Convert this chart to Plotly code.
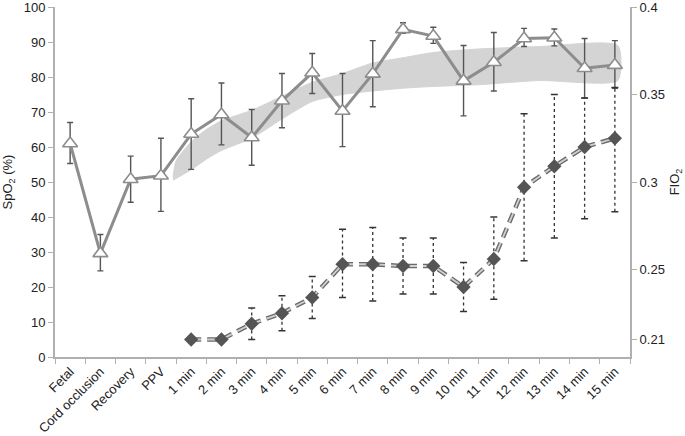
import plotly.graph_objects as go

categories = ["Fetal", "Cord occlusion", "Recovery", "PPV", "1 min", "2 min", "3 min",
              "4 min", "5 min", "6 min", "7 min", "8 min", "9 min", "10 min", "11 min",
              "12 min", "13 min", "14 min", "15 min"]

spo2 = [61, 29.6, 50.8, 51.8, 63.7, 69.3, 62.7, 73.2, 81.2, 70.3, 80.9, 93.6, 91.7,
        78.9, 84.2, 91.0, 91.2, 82.5, 83.4]
spo2_hi = [67, 35.0, 57.4, 62.5, 73.8, 78.3, 70.7, 81.0, 86.7, 81.0, 90.4, 95.5, 94.2,
           89.0, 92.7, 93.9, 93.7, 91.0, 90.4]
spo2_lo = [55.3, 24.6, 44.2, 41.6, 53.6, 60.6, 54.8, 65.5, 75.3, 60.1, 71.5, 92.5, 89.6,
           68.9, 76.0, 88.7, 88.9, 74.0, 76.8]

fio_categories = categories[4:]
fio2 = [0.210, 0.210, 0.219, 0.225, 0.234, 0.253, 0.253, 0.252, 0.252, 0.240, 0.256,
        0.297, 0.309, 0.320, 0.325]
fio2_hi = [None, None, 0.228, 0.235, 0.246, 0.273, 0.274, 0.268, 0.268, 0.254, 0.280,
           0.339, 0.350, 0.348, 0.354]
fio2_lo = [None, None, 0.210, 0.215, 0.222, 0.234, 0.232, 0.236, 0.236, 0.226, 0.233,
           0.255, 0.268, 0.279, 0.283]

# target band (position in category units)
band_pos = [3.4, 3.5, 4.0, 4.5, 5.0, 6.0, 7.0, 8.0, 9.0, 10.0, 11.0, 12.0, 13.5, 15.5, 18.1]
band_hi = [51.5, 56.0, 61.5, 65.0, 67.5, 70.5, 74.5, 78.5, 81.0, 84.0, 85.5, 87.0, 88.0, 88.7, 89.0]
band_lo = [50.5, 51.0, 53.5, 56.5, 59.0, 62.5, 68.0, 73.0, 75.0, 76.0, 76.8, 77.3, 77.8, 79.0, 79.0]

left_ticks = list(range(0, 101, 10))
right_ticks = [0.21, 0.25, 0.3, 0.35, 0.4]
right_tick_text = ["0.21", "0.25", "0.3", "0.35", "0.4"]

idx = list(range(len(categories)))
fidx = [categories.index(c) for c in fio_categories]

FONT = "Liberation Sans, Arial, sans-serif"
TXT = "#222222"

fig = go.Figure()

# band
fig.add_trace(go.Scatter(
    x=band_pos + band_pos[::-1], y=band_hi + band_lo[::-1],
    fill="toself", fillcolor="rgb(212,212,212)", mode="lines",
    line=dict(color="rgb(212,212,212)", width=1, shape="spline", smoothing=0.6),
    hoverinfo="skip", showlegend=False))

# SpO2 series
fig.add_trace(go.Scatter(
    x=idx, y=spo2, mode="lines+markers",
    line=dict(color="#8d8d8d", width=3),
    marker=dict(symbol="triangle-up", size=13, color="white",
                line=dict(color="#8d8d8d", width=1.6)),
    error_y=dict(type="data", symmetric=False,
                 array=[h - v for h, v in zip(spo2_hi, spo2)],
                 arrayminus=[v - l for v, l in zip(spo2, spo2_lo)],
                 color="#555555", thickness=1.4, width=3),
    showlegend=False))

# FIO2 dotted error bars
ex, ey = [], []
cx, cy = [], []
for i, h, l in zip(fidx, fio2_hi, fio2_lo):
    if h is None:
        continue
    ex += [i, i, None]
    ey += [l, h, None]
    cx += [i, i]
    cy += [l, h]
fig.add_trace(go.Scatter(x=ex, y=ey, mode="lines", yaxis="y2",
                         line=dict(color="#333333", width=1.3, dash="dot"),
                         hoverinfo="skip", showlegend=False))
fig.add_trace(go.Scatter(x=cx, y=cy, mode="markers", yaxis="y2",
                         marker=dict(symbol="line-ew", size=5,
                                     line=dict(color="#333333", width=1.5)),
                         hoverinfo="skip", showlegend=False))

# FIO2 dashed line (outlined dash look)
fig.add_trace(go.Scatter(x=fidx, y=fio2, mode="lines", yaxis="y2",
                         line=dict(color="#6a6a6a", width=4.5, dash="10px,6px"),
                         hoverinfo="skip", showlegend=False))
fig.add_trace(go.Scatter(x=fidx, y=fio2, mode="lines", yaxis="y2",
                         line=dict(color="#d0d0d0", width=1.8, dash="10px,6px"),
                         hoverinfo="skip", showlegend=False))
fig.add_trace(go.Scatter(x=fidx, y=fio2, mode="markers", yaxis="y2",
                         marker=dict(symbol="diamond", size=11, color="#555555"),
                         showlegend=False))

fig.update_layout(
    width=685, height=436,
    margin=dict(l=55, r=55, t=7, b=79, autoexpand=False),
    paper_bgcolor="white", plot_bgcolor="white",
    font=dict(family=FONT, size=13, color=TXT),
    xaxis=dict(range=[-0.5, len(categories) - 0.5], tickvals=idx, ticktext=categories,
               tickangle=-45, ticks="", showgrid=False, zeroline=False, automargin=False,
               ticklabeloverflow="allow",
               showline=True, linecolor="#b0b0b0", linewidth=2,
               minor=dict(ticks="outside", tick0=-0.5, dtick=1, ticklen=5,
                          tickcolor="#b0b0b0", tickwidth=1, showgrid=False),
               tickfont=dict(size=13, color=TXT)),
    yaxis=dict(range=[0, 100], tickvals=left_ticks, ticks="outside", ticklen=5,
               tickcolor="#b0b0b0", showgrid=False, zeroline=False, automargin=False,
               ticklabeloverflow="allow",
               showline=True, linecolor="#b0b0b0", linewidth=2,
               title=dict(text="SpO<sub>2</sub> (%)", standoff=8, font=dict(size=13)),
               tickfont=dict(size=13, color=TXT)),
    yaxis2=dict(range=[0.2, 0.4], overlaying="y", side="right",
                tickvals=right_ticks, ticktext=right_tick_text,
                ticks="outside", ticklen=5, tickcolor="#b0b0b0", automargin=False,
                ticklabeloverflow="allow",
                showgrid=False, zeroline=False,
                showline=True, linecolor="#b0b0b0", linewidth=2,
                title=dict(text="FIO<sub>2</sub>", standoff=6, font=dict(size=13)),
                tickfont=dict(size=13, color=TXT)),
)

fig.write_html("out.html",
               config={"displayModeBar": False},
               post_script="document.body.style.margin='0';document.body.style.overflow='hidden';")
